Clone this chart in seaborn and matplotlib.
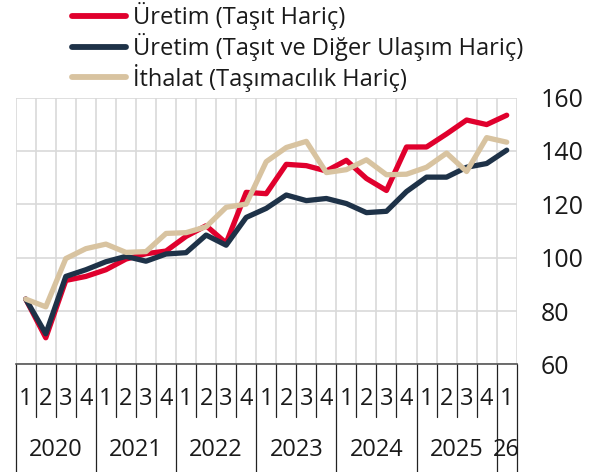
import numpy as np
import pandas as pd
import matplotlib
matplotlib.use("Agg")
import matplotlib.pyplot as plt
import seaborn as sns

# Quarterly index values, 2020Q1 - 2026Q1
quarters = ["1", "2", "3", "4"] * 6 + ["1"]
years = ["2020", "2021", "2022", "2023", "2024", "2025", "26"]
uretim = [84.5, 70.0, 91.5, 93.0, 95.5, 99.5, 101.5, 102.5, 108.0, 112.0,
          105.5, 124.5, 124.0, 135.0, 134.5, 132.5, 136.5, 129.7, 125.2, 141.5,
          141.5, 146.4, 151.6, 149.9, 153.4]
uretim_ulasim = [84.5, 71.5, 93.0, 95.5, 98.5, 100.5, 98.7, 101.4, 101.9, 108.5,
                 104.7, 115.1, 118.5, 123.5, 121.4, 122.2, 120.3, 116.9, 117.4, 124.8,
                 130.2, 130.2, 133.9, 135.3, 140.3]
ithalat = [84.5, 81.6, 99.7, 103.4, 105.1, 102.0, 102.3, 109.1, 109.4, 111.6,
           118.9, 120.1, 136.0, 141.3, 143.6, 131.9, 133.0, 136.7, 131.1, 131.3,
           133.9, 139.2, 132.3, 145.0, 143.3]
series_names = ["Üretim (Taşıt Hariç)",
                "Üretim (Taşıt ve Diğer Ulaşım Hariç)",
                "İthalat (Taşımacılık Hariç)"]
colors = ["#E0002D", "#1E3248", "#D8C3A0"]

sns.set_theme(style="white")
plt.rcParams["font.family"] = ["Open Sans", "DejaVu Sans"]
FS = 17

n = len(quarters)
df = pd.DataFrame({
    "t": np.tile(np.arange(n), 3),
    "deger": uretim + uretim_ulasim + ithalat,
    "seri": np.repeat(series_names, n),
})

fig = plt.figure(figsize=(5.98, 4.72), dpi=100)
ax = fig.add_axes([0.0263, 0.2278, 0.8378, 0.5654])
sns.lineplot(data=df, x="t", y="deger", hue="seri", hue_order=series_names,
             palette=colors, linewidth=3.8, ax=ax, legend=True)

ax.set_xlim(-0.5, n - 0.5)
ax.set_ylim(60, 160)
ax.set_xlabel("")
ax.set_ylabel("")

# grid: vertical lines on quarter boundaries, horizontal on y ticks
bounds = np.arange(n + 1) - 0.5
ax.set_xticks(bounds)
ax.set_xticklabels([])
ax.tick_params(axis="x", length=0)
ax.yaxis.tick_right()
ax.set_yticks(range(60, 161, 20))
ax.tick_params(axis="y", length=0, pad=17.5, labelsize=18, labelcolor="#1a1a1a")
ax.grid(True, color="#d9d9d9", linewidth=1.2)
ax.set_axisbelow(True)
for side in ["top", "left", "right"]:
    ax.spines[side].set_visible(False)
ax.spines["bottom"].set_color("#555555")
ax.spines["bottom"].set_linewidth(1.2)

# category axis: quarter cells and year groups
trans = ax.get_xaxis_transform()
year_bounds = {-0.5, 3.5, 7.5, 11.5, 15.5, 19.5, 23.5, 24.5}
for b in bounds:
    low = -0.403 if b in year_bounds else -0.197
    ax.plot([b, b], [0, low], transform=trans, color="#222222",
            linewidth=0.9, clip_on=False)
for i, q in enumerate(quarters):
    ax.text(i, -0.129, q, transform=trans, ha="center", va="center",
            fontsize=FS, color="#1a1a1a")
year_centers = [1.5, 5.5, 9.5, 13.5, 17.5, 21.5, 24.0]
for xc, y in zip(year_centers, years):
    ax.text(xc, -0.32, y, transform=trans, ha="center", va="center",
            fontsize=FS, color="#1a1a1a")

handles, labels = ax.get_legend_handles_labels()
leg = ax.legend(handles, labels, loc="upper left",
                bbox_to_anchor=(72 / 598, 0.995), bbox_transform=fig.transFigure,
                frameon=False, handlelength=2.3, handletextpad=0.3,
                labelspacing=0.11, borderaxespad=0, borderpad=0, fontsize=FS)
for line in leg.get_lines():
    line.set_linewidth(4.2)
    line.set_solid_capstyle("round")
for t in leg.get_texts():
    t.set_color("#1a1a1a")

fig.savefig("out.png", dpi=100)
